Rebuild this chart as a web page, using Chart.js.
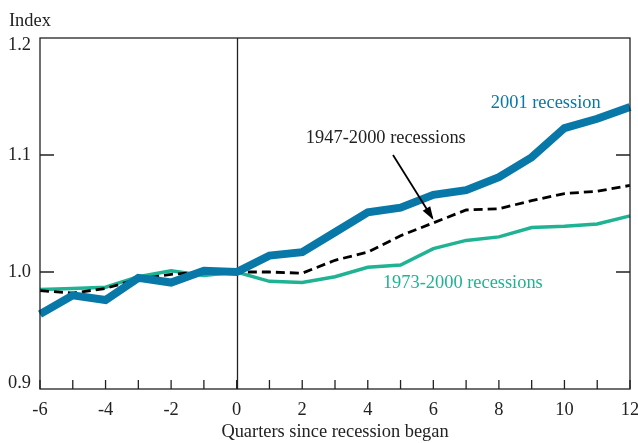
<!DOCTYPE html>
<html>
<head>
<meta charset="utf-8">
<script src="https://cdn.jsdelivr.net/npm/chart.js@4/dist/chart.umd.min.js"></script>
<style>
html,body{margin:0;padding:0;background:#fff;}
#wrap{width:638px;height:443px;position:relative;}
</style>
</head>
<body>
<div id="wrap"><canvas id="c" width="638" height="443"></canvas></div>
<script>
const quarters = [-6,-5,-4,-3,-2,-1,0,1,2,3,4,5,6,7,8,9,10,11,12];
const rec2001 = [0.964,0.980,0.976,0.995,0.991,1.001,1.000,1.014,1.017,1.034,1.051,1.055,1.066,1.070,1.081,1.098,1.123,1.131,1.141];
const rec1947_2000 = [0.984,0.982,0.986,0.994,0.998,1.000,1.000,1.000,0.999,1.010,1.017,1.031,1.042,1.053,1.054,1.061,1.067,1.069,1.074];
const rec1973_2000 = [0.985,0.986,0.987,0.996,1.001,0.997,1.000,0.992,0.991,0.996,1.004,1.006,1.020,1.027,1.030,1.038,1.039,1.041,1.048];
const yTicks = [0.9,1.0,1.1,1.2];
const xTickLabels = [-6,-4,-2,0,2,4,6,8,10,12];
const seriesNames = ["2001 recession","1947-2000 recessions","1973-2000 recessions"];
const yTitle = "Index";
const xTitle = "Quarters since recession began";

const BLUE = "#0878a8";
const TEAL = "#1fb394";
const INK = "#222";
const FONT = "'Liberation Serif', 'DejaVu Serif', serif";
const FS = 18.4;

function pts(arr){ return quarters.map((q,i)=>({x:q,y:arr[i]})); }

const decor = {
  id:'decor',
  beforeDatasetsDraw(chart){
    const {ctx, chartArea:a, scales:{x}} = chart;
    ctx.save();
    ctx.strokeStyle = INK;
    ctx.lineWidth = 1.3;
    const x0 = Math.round(x.getPixelForValue(0))+0.5;
    ctx.beginPath(); ctx.moveTo(x0,a.top); ctx.lineTo(x0,a.bottom); ctx.stroke();
    ctx.restore();
  },
  afterDatasetsDraw(chart){
    const {ctx, chartArea:a, scales:{x,y}} = chart;
    ctx.save();
    ctx.strokeStyle = INK;
    ctx.lineWidth = 1.3;
    ctx.strokeRect(a.left, a.top, a.right-a.left, a.bottom-a.top);
    ctx.beginPath();
    for(const q of quarters){
      const px = x.getPixelForValue(q);
      ctx.moveTo(px, a.bottom); ctx.lineTo(px, a.bottom-9);
    }
    for(const t of yTicks){
      if(t===yTicks[0]||t===yTicks[yTicks.length-1]) continue;
      const py = y.getPixelForValue(t);
      ctx.moveTo(a.left, py); ctx.lineTo(a.left+14, py);
      ctx.moveTo(a.right, py); ctx.lineTo(a.right-14, py);
    }
    ctx.stroke();
    ctx.font = FS + "px " + FONT;
    ctx.fillStyle = INK;
    ctx.textAlign = 'right';
    ctx.textBaseline = 'middle';
    yTicks.forEach((t,i)=>{
      const py = y.getPixelForValue(t);
      let yy = py;
      if(i===yTicks.length-1) yy = py + 7;
      else if(i===0) yy = py - 6;
      ctx.fillText(t.toFixed(1), a.left-9, yy);
    });
    ctx.textAlign = 'left';
    ctx.fillText(yTitle, 9, 21);
    ctx.textAlign = 'center';
    ctx.fillStyle = BLUE;
    ctx.fillText(seriesNames[0], x.getPixelForValue(9.43), y.getPixelForValue(1.1444));
    ctx.fillStyle = INK;
    ctx.fillText(seriesNames[1], x.getPixelForValue(4.55), y.getPixelForValue(1.1145));
    ctx.fillStyle = TEAL;
    ctx.fillText(seriesNames[2], x.getPixelForValue(6.9), y.getPixelForValue(0.9905));
    const sx = x.getPixelForValue(4.77), sy = y.getPixelForValue(1.1);
    const ex = x.getPixelForValue(5.97), ey = y.getPixelForValue(1.0462);
    ctx.strokeStyle = '#000'; ctx.fillStyle = '#000'; ctx.lineWidth = 1.8;
    ctx.beginPath(); ctx.moveTo(sx,sy); ctx.lineTo(ex,ey); ctx.stroke();
    const ang = Math.atan2(ey-sy, ex-sx), L = 12, W = 0.38;
    ctx.beginPath();
    ctx.moveTo(ex+2*Math.cos(ang), ey+2*Math.sin(ang));
    ctx.lineTo(ex-L*Math.cos(ang-W), ey-L*Math.sin(ang-W));
    ctx.lineTo(ex-L*Math.cos(ang+W), ey-L*Math.sin(ang+W));
    ctx.closePath(); ctx.fill();
    ctx.restore();
  }
};

new Chart(document.getElementById('c'), {
  type:'line',
  data:{
    datasets:[
      {label:seriesNames[0], data:pts(rec2001), borderColor:BLUE, borderWidth:8, pointRadius:0, tension:0, borderCapStyle:'butt', borderJoinStyle:'miter'},
      {label:seriesNames[1], data:pts(rec1947_2000), borderColor:'#000', borderWidth:2.8, borderDash:[9,5], pointRadius:0, tension:0},
      {label:seriesNames[2], data:pts(rec1973_2000), borderColor:TEAL, borderWidth:3.5, pointRadius:0, tension:0}
    ]
  },
  plugins:[decor],
  options:{
    responsive:false,
    animation:false,
    clip:false,
    layout:{padding:{top:38,right:8,left:0,bottom:0}},
    plugins:{legend:{display:false}, tooltip:{enabled:false}},
    scales:{
      x:{
        type:'linear', min:quarters[0], max:quarters[quarters.length-1],
        afterBuildTicks(s){ s.ticks = xTickLabels.map(v=>({value:v})); },
        ticks:{color:INK, font:{family:FONT,size:FS}, padding:10, maxRotation:0, autoSkip:false,
          callback:v=>String(v)},
        grid:{display:false, drawTicks:false},
        border:{display:false},
        title:{display:true, text:xTitle, color:INK, font:{family:FONT,size:FS}, padding:{top:0,bottom:0}},
        afterFit(s){ s.height = 54; s.paddingLeft = 0; s.paddingRight = 0; }
      },
      y:{
        type:'linear', min:yTicks[0], max:yTicks[yTicks.length-1],
        afterBuildTicks(s){ s.ticks = yTicks.map(v=>({value:v})); },
        ticks:{display:false},
        grid:{display:false, drawTicks:false},
        border:{display:false},
        afterFit(s){ s.width = 40; }
      }
    }
  }
});
</script>
</body>
</html>
